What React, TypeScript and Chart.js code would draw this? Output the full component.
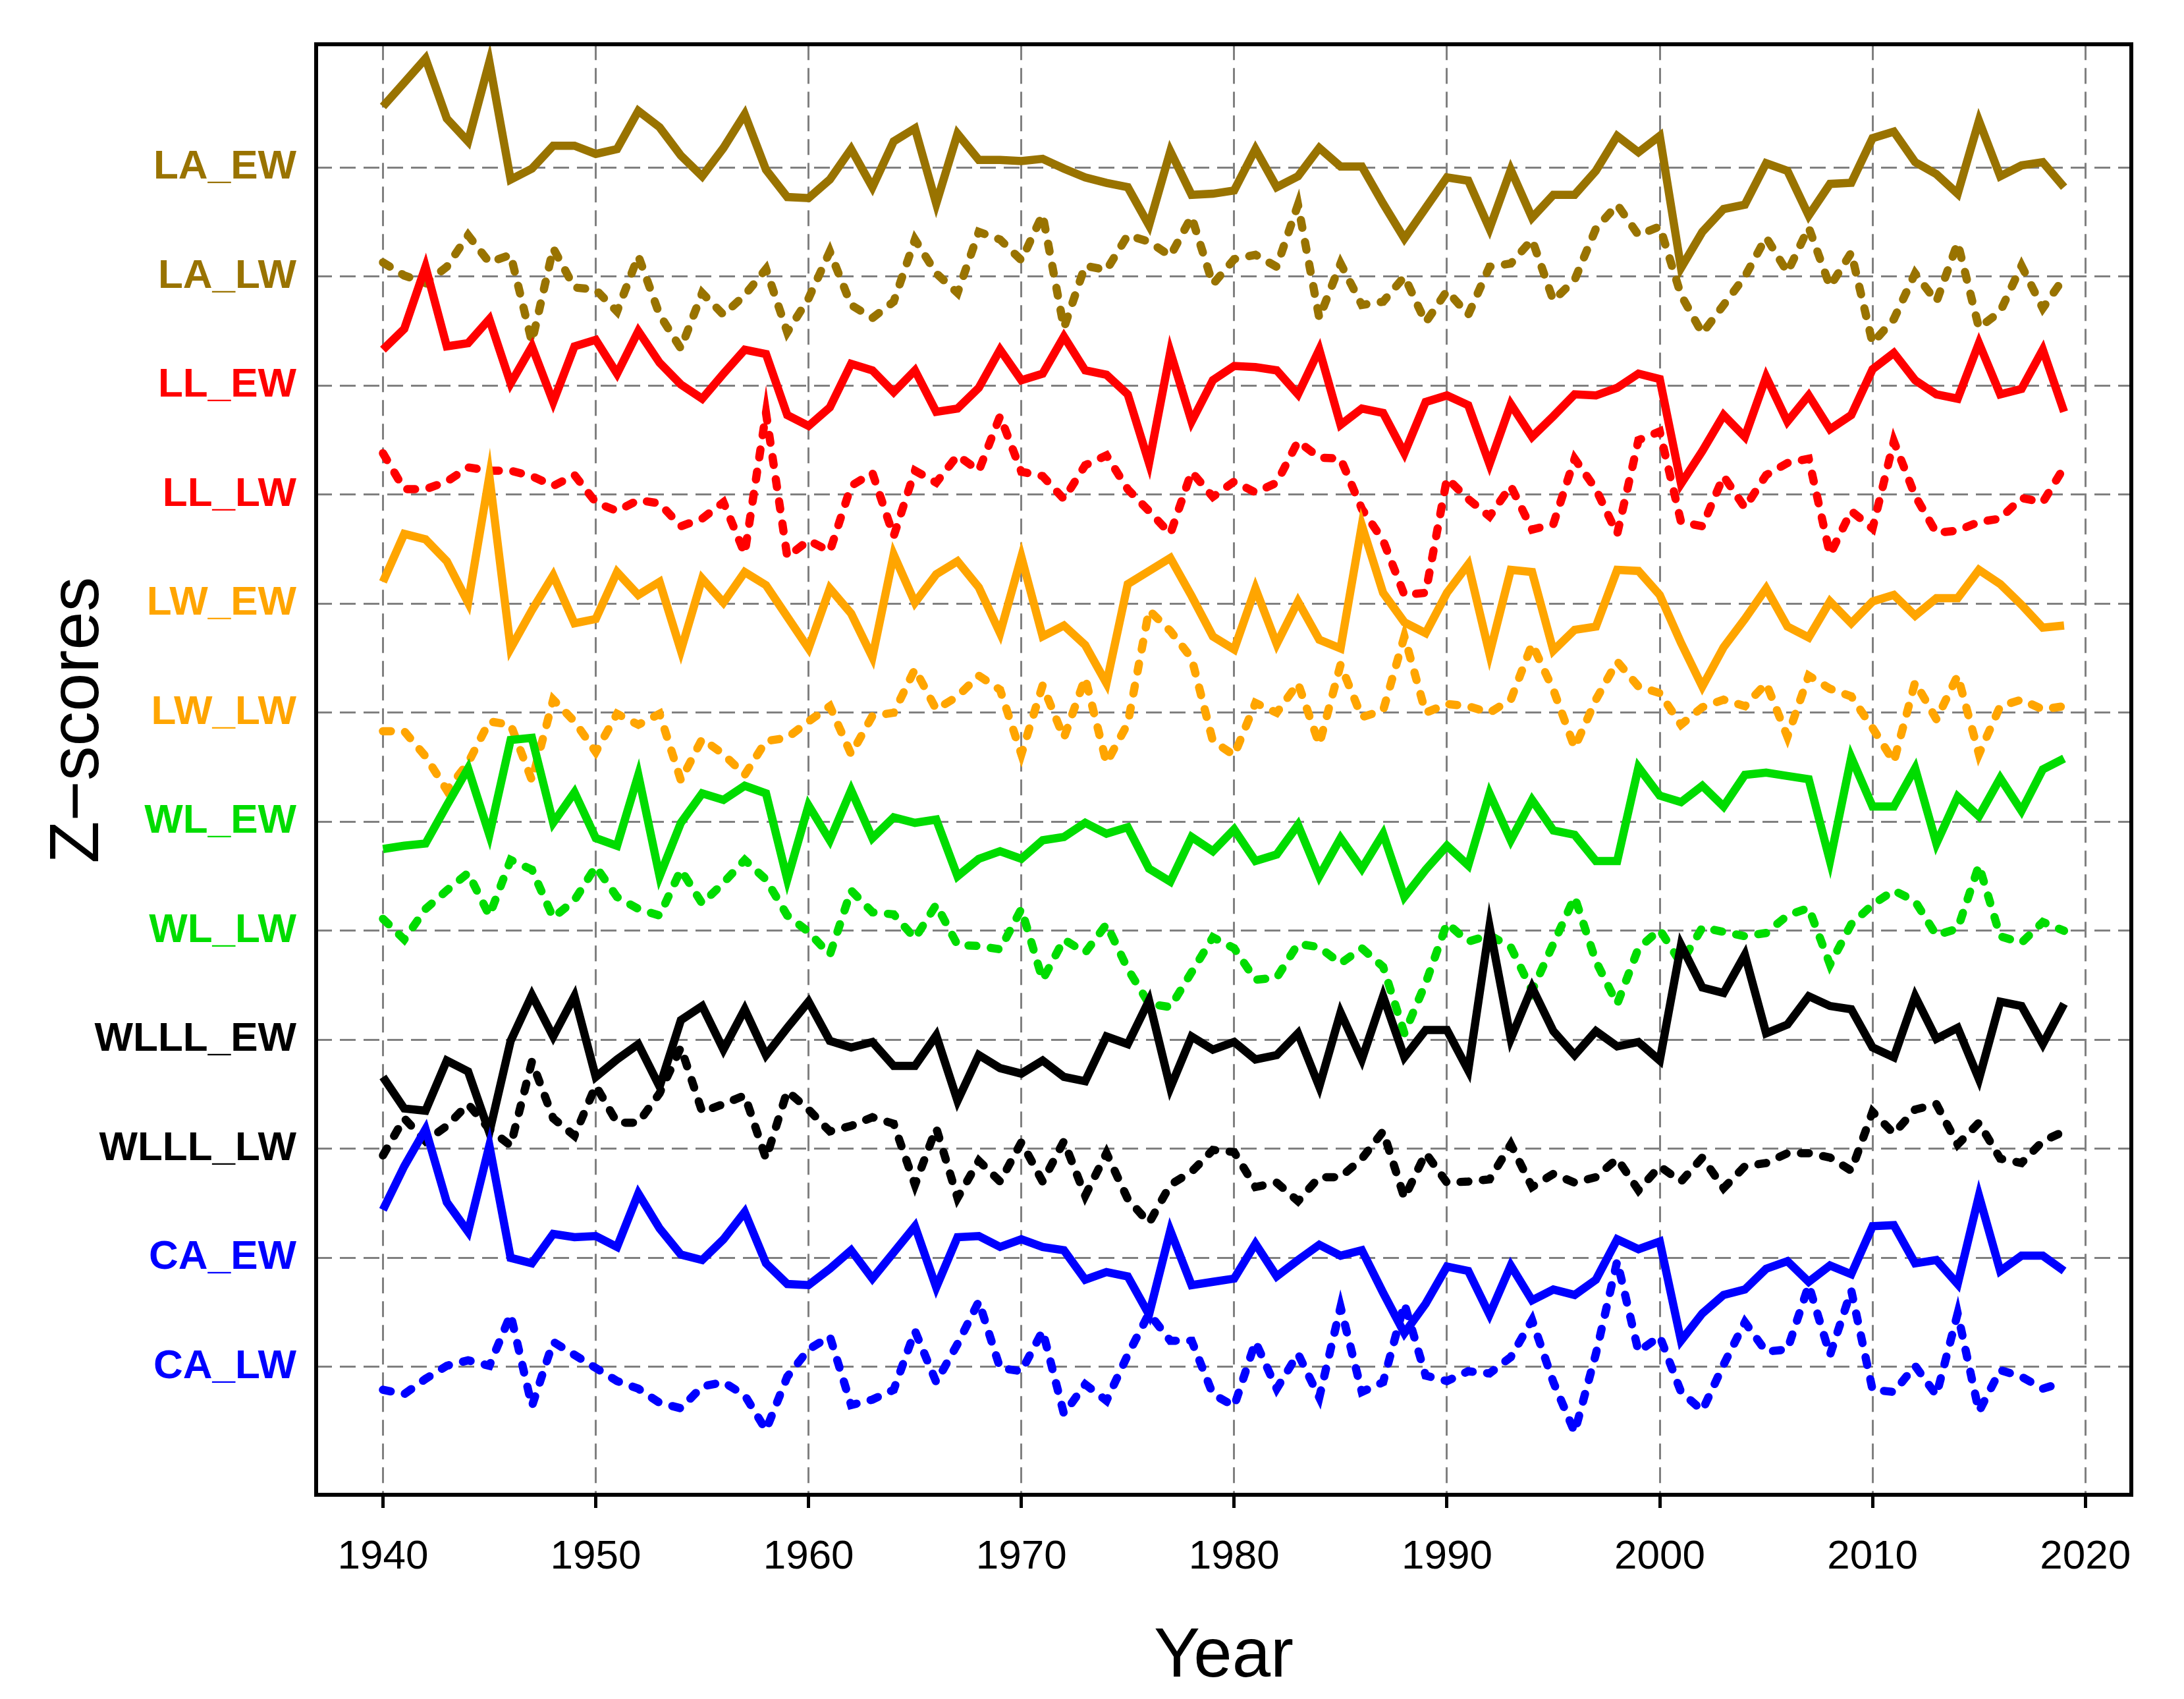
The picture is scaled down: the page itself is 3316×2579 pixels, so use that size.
import React, { useEffect, useRef } from 'react';
import { Chart, registerables } from 'chart.js';

Chart.register(...registerables);

// ---------- data ----------
const FIRST_YEAR = 1940;
const xTickYears = [1940, 1950, 1960, 1970, 1980, 1990, 2000, 2010, 2020];

const seriesNames = ['LA_EW', 'LA_LW', 'LL_EW', 'LL_LW', 'LW_EW', 'LW_LW', 'WL_EW', 'WL_LW', 'WLLL_EW', 'WLLL_LW', 'CA_EW', 'CA_LW'];
const seriesColors = ['#997300', '#997300', '#ff0000', '#ff0000', '#ffa500', '#ffa500', '#00dc00', '#00dc00', '#000000', '#000000', '#0000ff', '#0000ff'];
const seriesDashed = [false, true, false, true, false, true, false, true, false, true, false, true];
// baseline position of each series on the stacked axis (LA_EW on top)
const seriesBaselines = [12, 11, 10, 9, 8, 7, 6, 5, 4, 3, 2, 1];

// anomalies (1940-2019), in units of the gap between two baselines
const laEw = [0.56, 0.78, 1.0, 0.45, 0.24, 0.97, -0.11, -0.01, 0.2, 0.2, 0.125, 0.17, 0.52, 0.37, 0.11, -0.08, 0.18, 0.49, -0.02, -0.27, -0.28,
  -0.11, 0.17, -0.18, 0.24, 0.36, -0.33, 0.31, 0.07, 0.07, 0.06, 0.08, -0.01, -0.09, -0.14, -0.18, -0.53, 0.15, -0.25, -0.24, -0.21,
  0.17, -0.18, -0.08, 0.18, 0.01, 0.01, -0.33, -0.65, -0.37, -0.09, -0.12, -0.56, -0.02, -0.46, -0.25, -0.25, -0.03, 0.29, 0.14, 0.29,
  -0.92, -0.59, -0.38, -0.34, 0.04, -0.03, -0.44, -0.15, -0.14, 0.27, 0.33, 0.05, -0.06, -0.24, 0.43, -0.08, 0.02, 0.05, -0.18];
const laLw = [0.13, 0.01, -0.06, 0.09, 0.38, 0.13, 0.2, -0.6, 0.26, -0.1, -0.12, -0.32, 0.19, -0.35, -0.66, -0.15, -0.35, -0.17, 0.07, -0.51, -0.2,
  0.23, -0.26, -0.38, -0.23, 0.34, 0.03, -0.15, 0.41, 0.34, 0.15, 0.57, -0.47, 0.1, 0.06, 0.38, 0.32, 0.19, 0.55, -0.07, 0.16,
  0.2, 0.09, 0.66, -0.38, 0.12, -0.26, -0.23, 0.0, -0.42, -0.13, -0.35, 0.09, 0.12, 0.34, -0.22, -0.03, 0.44, 0.66, 0.38, 0.46,
  -0.17, -0.52, -0.26, 0.0, 0.36, 0.04, 0.45, -0.09, 0.22, -0.61, -0.39, 0.03, -0.23, 0.31, -0.47, -0.32, 0.1, -0.29, -0.01];
const llEw = [0.33, 0.52, 1.09, 0.36, 0.39, 0.61, 0.02, 0.36, -0.15, 0.36, 0.42, 0.11, 0.5, 0.21, 0.01, -0.12, 0.11, 0.33, 0.29, -0.27, -0.37,
  -0.2, 0.2, 0.14, -0.06, 0.14, -0.24, -0.21, -0.02, 0.33, 0.05, 0.11, 0.45, 0.14, 0.1, -0.08, -0.71, 0.31, -0.33, 0.05, 0.18,
  0.17, 0.14, -0.08, 0.33, -0.36, -0.21, -0.25, -0.62, -0.15, -0.09, -0.18, -0.72, -0.17, -0.47, -0.28, -0.08, -0.09, -0.02, 0.11, 0.06,
  -0.9, -0.6, -0.27, -0.47, 0.08, -0.33, -0.09, -0.4, -0.27, 0.15, 0.3, 0.05, -0.08, -0.12, 0.39, -0.08, -0.03, 0.33, -0.24];
const llLw = [0.38, 0.05, 0.05, 0.12, 0.25, 0.22, 0.22, 0.17, 0.08, 0.18, -0.07, -0.15, -0.05, -0.08, -0.29, -0.22, -0.07, -0.54, 0.75, -0.57, -0.42,
  -0.52, 0.08, 0.2, -0.38, 0.22, 0.11, 0.36, 0.22, 0.72, 0.21, 0.17, -0.04, 0.27, 0.36, 0.05, -0.15, -0.36, 0.21, -0.02, 0.12,
  0.02, 0.11, 0.49, 0.34, 0.33, -0.13, -0.42, -0.92, -0.9, 0.15, -0.04, -0.2, 0.08, -0.32, -0.27, 0.33, 0.05, -0.36, 0.5, 0.58,
  -0.25, -0.29, 0.17, -0.12, 0.18, 0.29, 0.33, -0.55, -0.15, -0.31, 0.49, -0.01, -0.35, -0.33, -0.25, -0.22, -0.03, -0.07, 0.25];
const lwEw = [0.2, 0.64, 0.59, 0.39, 0.01, 1.17, -0.41, -0.06, 0.26, -0.18, -0.14, 0.29, 0.08, 0.2, -0.43, 0.23, 0.01, 0.29, 0.17, -0.12, -0.41,
  0.14, -0.09, -0.49, 0.45, 0.01, 0.27, 0.39, 0.15, -0.27, 0.43, -0.3, -0.2, -0.38, -0.73, 0.18, 0.3, 0.42, 0.07, -0.3, -0.42,
  0.14, -0.37, 0.02, -0.33, -0.41, 0.72, 0.1, -0.17, -0.27, 0.1, 0.36, -0.46, 0.31, 0.29, -0.43, -0.24, -0.21, 0.31, 0.3, 0.08,
  -0.36, -0.76, -0.4, -0.14, 0.14, -0.21, -0.31, 0.02, -0.18, 0.02, 0.08, -0.11, 0.05, 0.05, 0.31, 0.18, -0.01, -0.22, -0.2];
const lwLw = [-0.17, -0.17, -0.4, -0.71, -0.46, -0.08, -0.11, -0.62, 0.12, -0.08, -0.36, -0.01, -0.11, -0.01, -0.62, -0.24, -0.38, -0.57, -0.26, -0.23, -0.08,
  0.06, -0.38, -0.03, 0.0, 0.4, 0.03, 0.15, 0.34, 0.21, -0.38, 0.25, -0.23, 0.32, -0.46, -0.1, 0.94, 0.75, 0.5, -0.26, -0.39,
  0.09, 0.0, 0.27, -0.29, 0.44, -0.04, 0.02, 0.7, 0.0, 0.08, 0.06, 0.0, 0.12, 0.63, 0.21, -0.32, 0.12, 0.47, 0.24, 0.18,
  -0.11, 0.05, 0.12, 0.06, 0.27, -0.22, 0.34, 0.22, 0.15, -0.14, -0.45, 0.28, -0.06, 0.34, -0.38, 0.06, 0.12, 0.03, 0.06];
const wlEw = [-0.25, -0.22, -0.2, 0.15, 0.49, -0.12, 0.75, 0.77, -0.01, 0.27, -0.15, -0.22, 0.43, -0.5, -0.01, 0.26, 0.2, 0.33, 0.26, -0.53, 0.15,
  -0.17, 0.29, -0.15, 0.04, -0.01, 0.02, -0.5, -0.34, -0.27, -0.34, -0.17, -0.14, -0.01, -0.11, -0.05, -0.43, -0.55, -0.14, -0.27, -0.07,
  -0.36, -0.3, -0.03, -0.5, -0.15, -0.43, -0.11, -0.69, -0.44, -0.22, -0.4, 0.26, -0.17, 0.2, -0.08, -0.12, -0.36, -0.36, 0.5, 0.24,
  0.18, 0.33, 0.14, 0.43, 0.45, 0.42, 0.39, -0.36, 0.59, 0.14, 0.14, 0.49, -0.2, 0.23, 0.05, 0.4, 0.1, 0.48, 0.58];
const wlLw = [0.11, -0.08, 0.2, 0.37, 0.53, 0.14, 0.65, 0.56, 0.12, 0.28, 0.59, 0.31, 0.2, 0.14, 0.56, 0.25, 0.44, 0.65, 0.47, 0.14, -0.01,
  -0.22, 0.37, 0.17, 0.15, -0.07, 0.24, -0.13, -0.14, -0.17, 0.2, -0.45, -0.08, -0.2, 0.06, -0.35, -0.67, -0.7, -0.38, -0.06, -0.16,
  -0.45, -0.43, -0.12, -0.15, -0.3, -0.16, -0.33, -0.94, -0.48, 0.07, -0.1, -0.04, -0.15, -0.55, -0.12, 0.31, -0.28, -0.67, -0.16, 0.01,
  -0.3, 0.03, -0.01, -0.05, -0.02, 0.14, 0.21, -0.31, 0.06, 0.24, 0.37, 0.27, -0.04, 0.02, 0.6, -0.05, -0.11, 0.08, 0.0];
const wlllEw = [-0.34, -0.63, -0.65, -0.19, -0.29, -0.85, -0.01, 0.41, 0.03, 0.4, -0.34, -0.18, -0.04, -0.43, 0.18, 0.31, -0.09, 0.28, -0.14, 0.11, 0.35,
  -0.01, -0.07, -0.02, -0.24, -0.24, 0.04, -0.56, -0.14, -0.26, -0.31, -0.19, -0.34, -0.38, 0.03, -0.04, 0.36, -0.44, 0.03, -0.09, -0.02,
  -0.18, -0.14, 0.06, -0.43, 0.25, -0.18, 0.4, -0.16, 0.09, 0.09, -0.28, 1.04, 0.01, 0.48, 0.08, -0.14, 0.08, -0.06, -0.02, -0.19,
  0.87, 0.48, 0.43, 0.78, 0.06, 0.14, 0.4, 0.31, 0.28, -0.07, -0.16, 0.4, 0.01, 0.11, -0.36, 0.35, 0.31, -0.04, 0.33];
const wlllLw = [-0.06, 0.28, 0.07, 0.21, 0.41, 0.18, 0.03, 0.8, 0.28, 0.12, 0.58, 0.24, 0.24, 0.51, 0.93, 0.34, 0.41, 0.49, -0.09, 0.53, 0.36,
  0.16, 0.21, 0.29, 0.23, -0.33, 0.19, -0.45, -0.11, -0.3, 0.06, -0.3, 0.07, -0.43, -0.04, -0.46, -0.68, -0.33, -0.21, -0.01, -0.03,
  -0.35, -0.31, -0.48, -0.26, -0.26, -0.09, 0.16, -0.45, -0.04, -0.31, -0.3, -0.28, 0.04, -0.35, -0.23, -0.31, -0.26, -0.09, -0.38, -0.16,
  -0.3, -0.08, -0.36, -0.16, -0.13, -0.04, -0.04, -0.08, -0.2, 0.34, 0.14, 0.36, 0.41, 0.04, 0.24, -0.09, -0.13, 0.07, 0.16];
const caEw = [0.44, 0.84, 1.18, 0.51, 0.24, 1.03, 0.0, -0.05, 0.22, 0.19, 0.2, 0.1, 0.59, 0.27, 0.03, -0.02, 0.17, 0.42, -0.05, -0.24, -0.25,
  -0.1, 0.07, -0.19, 0.05, 0.29, -0.27, 0.19, 0.2, 0.1, 0.17, 0.1, 0.07, -0.2, -0.13, -0.17, -0.52, 0.25, -0.25, -0.22, -0.19,
  0.13, -0.17, -0.02, 0.12, 0.02, 0.07, -0.32, -0.69, -0.42, -0.08, -0.12, -0.52, -0.07, -0.39, -0.29, -0.34, -0.2, 0.17, 0.08, 0.15,
  -0.76, -0.51, -0.34, -0.29, -0.1, -0.03, -0.22, -0.07, -0.15, 0.29, 0.3, -0.05, -0.02, -0.24, 0.57, -0.12, 0.02, 0.02, -0.12];
const caLw = [-0.21, -0.25, -0.11, 0.01, 0.06, 0.01, 0.48, -0.36, 0.23, 0.11, -0.01, -0.13, -0.2, -0.33, -0.38, -0.18, -0.14, -0.26, -0.58, -0.09, 0.16,
  0.28, -0.35, -0.3, -0.21, 0.33, -0.14, 0.21, 0.6, -0.01, -0.04, 0.33, -0.43, -0.16, -0.31, 0.11, 0.49, 0.24, 0.24, -0.25, -0.36,
  0.23, -0.2, 0.12, -0.28, 0.55, -0.23, -0.14, 0.58, -0.08, -0.13, -0.04, -0.06, 0.09, 0.43, -0.14, -0.6, 0.12, 0.97, 0.14, 0.28,
  -0.23, -0.4, 0.02, 0.41, 0.14, 0.16, 0.75, 0.11, 0.7, -0.21, -0.23, 0.01, -0.26, 0.49, -0.41, -0.03, -0.09, -0.2, -0.14];

const seriesValues = [laEw, laLw, llEw, llLw, lwEw, lwLw, wlEw, wlLw, wlllEw, wlllLw, caEw, caLw];

// ---------- layout ----------
const W = 3316;
const H = 2579;
const PLOT_LEFT = 480;
const PLOT_RIGHT = 3236;
const PLOT_TOP = 57;
const PLOT_BOTTOM = 2269;
const FONT = '"Liberation Sans", Arial, Helvetica, sans-serif';

const framePlugin = {
  id: 'frame',
  afterDraw(chart: any) {
    const { ctx, chartArea } = chart;
    ctx.save();
    ctx.strokeStyle = '#000';
    ctx.lineWidth = 6;
    ctx.setLineDash([]);
    ctx.strokeRect(chartArea.left, chartArea.top, chartArea.right - chartArea.left, chartArea.bottom - chartArea.top);
    ctx.restore();
  },
};

const yTitlePlugin = {
  id: 'yTitle',
  afterDraw(chart: any) {
    const { ctx, chartArea } = chart;
    ctx.save();
    ctx.translate(chartArea.left - 360, chartArea.top + 1026);
    ctx.rotate(-Math.PI / 2);
    ctx.font = `105px ${FONT}`;
    ctx.fillStyle = '#000';
    ctx.textAlign = 'center';
    ctx.textBaseline = 'middle';
    ctx.fillText('Z\u2212scores', 0, 0);
    ctx.restore();
  },
};

export default function App() {
  const canvasRef = useRef<HTMLCanvasElement | null>(null);

  useEffect(() => {
    if (!canvasRef.current) return;
    const datasets = seriesNames.map((name, s) => ({
      label: name,
      data: seriesValues[s].map((v, i) => ({ x: FIRST_YEAR + i, y: seriesBaselines[s] + v })),
      borderColor: seriesColors[s],
      backgroundColor: seriesColors[s],
      borderWidth: 12.5,
      borderDash: seriesDashed[s] ? [12, 22] : [],
      borderCapStyle: seriesDashed[s] ? 'round' : 'butt',
      borderJoinStyle: 'miter',
      pointRadius: 0,
      tension: 0,
      fill: false,
      order: seriesNames.length - s,
    }));

    const chart = new Chart(canvasRef.current, {
      type: 'line',
      data: { datasets } as any,
      options: {
        animation: false,
        responsive: false,
        devicePixelRatio: 1,
        layout: { padding: { top: PLOT_TOP, right: W - PLOT_RIGHT, left: 0, bottom: 0 } },
        plugins: { legend: { display: false }, tooltip: { enabled: false }, title: { display: false } },
        scales: {
          x: {
            type: 'linear',
            min: 1936.86,
            max: 2022.16,
            afterBuildTicks: (scale: any) => {
              scale.ticks = xTickYears.map((v) => ({ value: v }));
            },
            afterFit: (scale: any) => {
              scale.height = H - PLOT_BOTTOM;
            },
            ticks: {
              callback: (v: any) => String(v),
              color: '#000',
              font: { family: FONT, size: 62 },
              padding: 38,
              maxRotation: 0,
              autoSkip: false,
            },
            grid: {
              color: '#808080',
              lineWidth: 3,
              drawTicks: true,
              tickLength: 20,
              tickColor: '#000',
              tickWidth: 5,
              tickBorderDash: [],
            },
            border: { display: false, dash: [24, 12] },
            title: {
              display: true,
              text: 'Year',
              color: '#000',
              font: { family: FONT, size: 105 },
              padding: { top: 0, bottom: 0 },
            },
          },
          y: {
            type: 'linear',
            min: -0.173,
            max: 13.131,
            afterBuildTicks: (scale: any) => {
              scale.ticks = seriesBaselines.map((v) => ({ value: v }));
            },
            afterFit: (scale: any) => {
              scale.width = PLOT_LEFT;
            },
            ticks: {
              callback: (v: any) => seriesNames[seriesBaselines.indexOf(Number(v))] ?? '',
              color: (ctx: any) => seriesColors[seriesBaselines.indexOf(ctx.tick?.value)] ?? '#000',
              font: { family: FONT, size: 62, weight: 'bold' },
              padding: 30,
              autoSkip: false,
            },
            grid: {
              color: '#808080',
              lineWidth: 3,
              drawTicks: false,
            },
            border: { display: false, dash: [24, 12] },
          },
        },
      } as any,
      plugins: [framePlugin, yTitlePlugin],
    });
    return () => chart.destroy();
  }, []);

  return (
    <div style={{ position: 'fixed', left: 0, top: 0, width: W, height: H, background: '#fff' }}>
      <canvas ref={canvasRef} width={W} height={H} style={{ width: W, height: H, display: 'block' }} />
    </div>
  );
}
